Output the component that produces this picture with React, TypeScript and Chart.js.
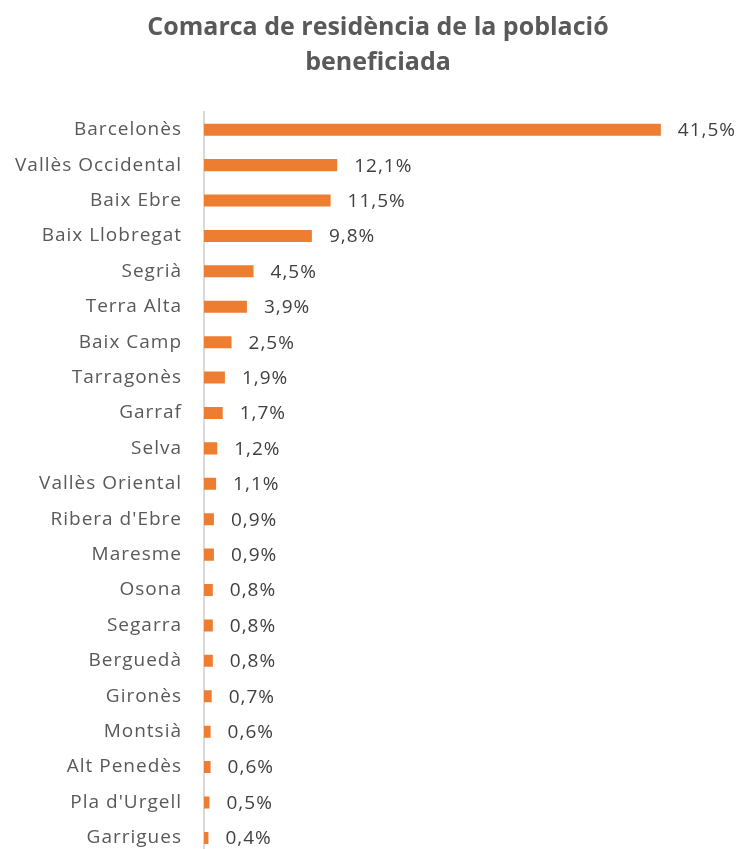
import React, { useEffect, useRef } from "react";
import { Chart, registerables } from "chart.js";

Chart.register(...registerables);

const categories = [
  "Barcelonès",
  "Vallès Occidental",
  "Baix Ebre",
  "Baix Llobregat",
  "Segrià",
  "Terra Alta",
  "Baix Camp",
  "Tarragonès",
  "Garraf",
  "Selva",
  "Vallès Oriental",
  "Ribera d'Ebre",
  "Maresme",
  "Osona",
  "Segarra",
  "Berguedà",
  "Gironès",
  "Montsià",
  "Alt Penedès",
  "Pla d'Urgell",
  "Garrigues",
];

const values = [
  41.5, 12.1, 11.5, 9.8, 4.5, 3.9, 2.5, 1.9, 1.7, 1.2, 1.1, 0.9, 0.9, 0.8, 0.8,
  0.8, 0.7, 0.6, 0.6, 0.5, 0.4,
];

const titleLines = ["Comarca de residència de la població", "beneficiada"];

const FONT = "'Open Sans', 'Noto Sans', sans-serif";

const setSpacing = (ctx: any, v: string) => {
  try {
    ctx.letterSpacing = v;
  } catch (e) {}
};

const spacingPlugin = {
  id: "tickSpacing",
  beforeDraw(chart: any) {
    setSpacing(chart.ctx, "1px");
  },
};

const titlePlugin = {
  id: "customTitle",
  afterDraw(chart: any) {
    const ctx = chart.ctx;
    ctx.save();
    setSpacing(ctx, "0px");
    ctx.font = `bold 25px ${FONT}`;
    ctx.fillStyle = "#595959";
    ctx.textAlign = "center";
    ctx.textBaseline = "middle";
    titleLines.forEach((line, i) => {
      ctx.fillText(line, 378, 28 + i * 35);
    });
    ctx.restore();
  },
};

const labelPlugin = {
  id: "barLabels",
  afterDatasetsDraw(chart: any) {
    const ctx = chart.ctx;
    const meta = chart.getDatasetMeta(0);
    ctx.save();
    setSpacing(ctx, "1px");
    ctx.font = `19px ${FONT}`;
    ctx.fillStyle = "#404040";
    ctx.textAlign = "left";
    ctx.textBaseline = "middle";
    meta.data.forEach((bar: any, i: number) => {
      const v = values[i];
      const txt = v.toFixed(1).replace(".", ",") + "%";
      ctx.fillText(txt, bar.x + 17, bar.y + 1);
    });
    ctx.restore();
  },
};

export default function App() {
  const canvasRef = useRef<HTMLCanvasElement | null>(null);

  useEffect(() => {
    if (!canvasRef.current) return;
    const chart = new Chart(canvasRef.current, {
      type: "bar",
      data: {
        labels: categories,
        datasets: [
          {
            data: values,
            backgroundColor: "#ED7D31",
            borderWidth: 0,
            barPercentage: 0.34,
            categoryPercentage: 1,
          },
        ],
      },
      options: {
        indexAxis: "y",
        animation: false,
        responsive: false,
        maintainAspectRatio: false,
        devicePixelRatio: 1,
        layout: { padding: { top: 112, right: 0, bottom: 5, left: 0 } },
        plugins: {
          legend: { display: false },
          tooltip: { enabled: false },
          title: { display: false },
        },
        scales: {
          x: {
            display: false,
            min: 0,
            max: 48.6,
          },
          y: {
            grid: { display: false, drawTicks: false },
            border: { display: true, color: "#D9D9D9", width: 2 },
            ticks: {
              color: "#595959",
              padding: 22,
              font: { family: FONT, size: 19 },
            },
            afterFit(scale: any) {
              scale.width = 204;
            },
          },
        },
      },
      plugins: [spacingPlugin, labelPlugin, titlePlugin],
    });
    return () => chart.destroy();
  }, []);

  return (
    <div
      style={{
        position: "absolute",
        left: 0,
        top: 0,
        width: 739,
        height: 849,
        overflow: "hidden",
        background: "#fff",
      }}
    >
      <canvas ref={canvasRef} width={739} height={889} style={{ display: "block" }} />
    </div>
  );
}
